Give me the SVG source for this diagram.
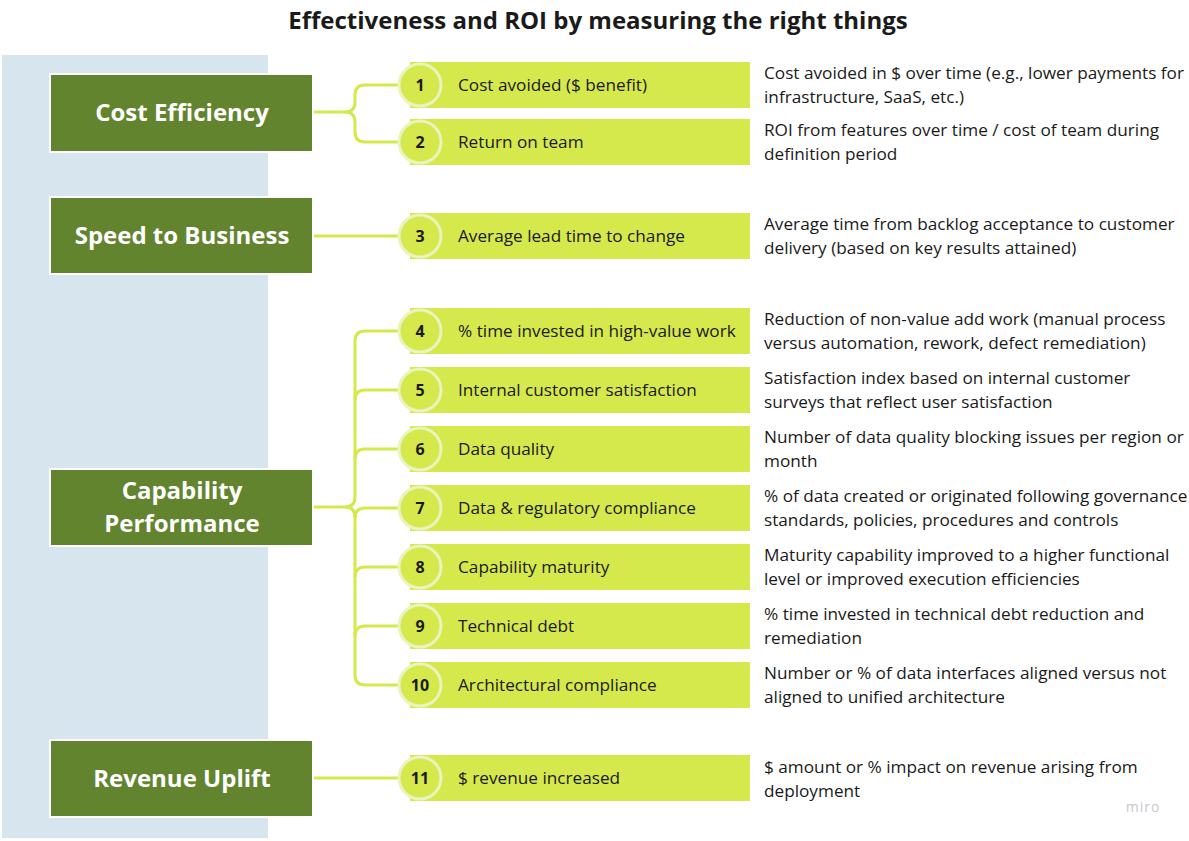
<svg xmlns="http://www.w3.org/2000/svg" width="1189" height="841" viewBox="0 0 1189 841">
<style>
.title{font-family:"Open Sans",sans-serif;font-weight:700;font-size:24px;fill:#1a1a1a}
.cat{fill:#63842e;stroke:#ffffff;stroke-width:2}
.catt{font-family:"Open Sans",sans-serif;font-weight:700;font-size:24px;fill:#ffffff;text-anchor:middle}
.bar{fill:#d5e94c}
.circ{fill:#d5e94c;stroke:#e9f4be;stroke-width:3}
.num{font-family:"Open Sans",sans-serif;font-weight:700;font-size:16px;fill:#1a1a1a;text-anchor:middle}
.lbl{font-family:"Open Sans",sans-serif;font-size:17.2px;fill:#1a1a1a}
.desc{font-family:"Open Sans",sans-serif;font-size:17.2px;fill:#1a1a1a}
.conn{fill:none;stroke:#d5e94c;stroke-width:3}
</style>
<rect width="1189" height="841" fill="#ffffff"/>
<rect x="2" y="55" width="266" height="783" fill="#d7e5ef"/>
<text class="title" x="598" y="29" text-anchor="middle">Effectiveness and ROI by measuring the right things</text>

<g id="connectors">
<path class="conn" d="M313,112 H345 Q355,112 355,102 V95 Q355,85 365,85 H400"/>
<path class="conn" d="M345,112 Q355,112 355,122 V132 Q355,142 365,142 H400"/>
<path class="conn" d="M313,236 H400"/>
<path class="conn" d="M313,507 H345 Q355,507 355,497 V341 Q355,331 365,331 H400"/>
<path class="conn" d="M345,507 Q355,507 355,517 V675 Q355,685 365,685 H400"/>
<path class="conn" d="M355,400 Q355,390 365,390 H400"/>
<path class="conn" d="M355,459 Q355,449 365,449 H400"/>
<path class="conn" d="M355,518 Q355,508 365,508 H400"/>
<path class="conn" d="M355,577 Q355,567 365,567 H400"/>
<path class="conn" d="M355,636 Q355,626 365,626 H400"/>
<path class="conn" d="M313,778 H400"/>
</g>

<g id="cat-cost"><rect class="cat" x="50" y="74" width="263" height="78"/><text class="catt" x="182" y="121">Cost Efficiency</text></g>
<g id="cat-speed"><rect class="cat" x="50" y="197" width="263" height="77"/><text class="catt" x="182" y="244">Speed to Business</text></g>
<g id="cat-capability"><rect class="cat" x="50" y="469" width="263" height="77"/><text class="catt" x="182" y="499">Capability</text><text class="catt" x="182" y="532">Performance</text></g>
<g id="cat-revenue"><rect class="cat" x="50" y="740" width="263" height="77"/><text class="catt" x="182" y="787">Revenue Uplift</text></g>

<g id="m1"><rect class="bar" x="410" y="62" width="340" height="46"/><circle class="circ" cx="420" cy="85" r="21"/><text class="num" x="420" y="91">1</text><text class="lbl" x="458" y="91">Cost avoided ($ benefit)</text>
<text class="desc" x="764" y="79">Cost avoided in $ over time (e.g., lower payments for</text><text class="desc" x="764" y="103">infrastructure, SaaS, etc.)</text></g>
<g id="m2"><rect class="bar" x="410" y="119" width="340" height="46"/><circle class="circ" cx="420" cy="142" r="21"/><text class="num" x="420" y="148">2</text><text class="lbl" x="458" y="148">Return on team</text>
<text class="desc" x="764" y="136">ROI from features over time / cost of team during</text><text class="desc" x="764" y="160">definition period</text></g>
<g id="m3"><rect class="bar" x="410" y="213" width="340" height="46"/><circle class="circ" cx="420" cy="236" r="21"/><text class="num" x="420" y="242">3</text><text class="lbl" x="458" y="242">Average lead time to change</text>
<text class="desc" x="764" y="230">Average time from backlog acceptance to customer</text><text class="desc" x="764" y="254">delivery (based on key results attained)</text></g>
<g id="m4"><rect class="bar" x="410" y="308" width="340" height="46"/><circle class="circ" cx="420" cy="331" r="21"/><text class="num" x="420" y="337">4</text><text class="lbl" x="458" y="337">% time invested in high-value work</text>
<text class="desc" x="764" y="325">Reduction of non-value add work (manual process</text><text class="desc" x="764" y="349">versus automation, rework, defect remediation)</text></g>
<g id="m5"><rect class="bar" x="410" y="367" width="340" height="46"/><circle class="circ" cx="420" cy="390" r="21"/><text class="num" x="420" y="396">5</text><text class="lbl" x="458" y="396">Internal customer satisfaction</text>
<text class="desc" x="764" y="384">Satisfaction index based on internal customer</text><text class="desc" x="764" y="408">surveys that reflect user satisfaction</text></g>
<g id="m6"><rect class="bar" x="410" y="426" width="340" height="46"/><circle class="circ" cx="420" cy="449" r="21"/><text class="num" x="420" y="455">6</text><text class="lbl" x="458" y="455">Data quality</text>
<text class="desc" x="764" y="443">Number of data quality blocking issues per region or</text><text class="desc" x="764" y="467">month</text></g>
<g id="m7"><rect class="bar" x="410" y="485" width="340" height="46"/><circle class="circ" cx="420" cy="508" r="21"/><text class="num" x="420" y="514">7</text><text class="lbl" x="458" y="514">Data &amp; regulatory compliance</text>
<text class="desc" x="764" y="502">% of data created or originated following governance</text><text class="desc" x="764" y="526">standards, policies, procedures and controls</text></g>
<g id="m8"><rect class="bar" x="410" y="544" width="340" height="46"/><circle class="circ" cx="420" cy="567" r="21"/><text class="num" x="420" y="573">8</text><text class="lbl" x="458" y="573">Capability maturity</text>
<text class="desc" x="764" y="561">Maturity capability improved to a higher functional</text><text class="desc" x="764" y="585">level or improved execution efficiencies</text></g>
<g id="m9"><rect class="bar" x="410" y="603" width="340" height="46"/><circle class="circ" cx="420" cy="626" r="21"/><text class="num" x="420" y="632">9</text><text class="lbl" x="458" y="632">Technical debt</text>
<text class="desc" x="764" y="620">% time invested in technical debt reduction and</text><text class="desc" x="764" y="644">remediation</text></g>
<g id="m10"><rect class="bar" x="410" y="662" width="340" height="46"/><circle class="circ" cx="420" cy="685" r="21"/><text class="num" x="420" y="691">10</text><text class="lbl" x="458" y="691">Architectural compliance</text>
<text class="desc" x="764" y="679">Number or % of data interfaces aligned versus not</text><text class="desc" x="764" y="703">aligned to unified architecture</text></g>
<g id="m11"><rect class="bar" x="410" y="755" width="340" height="46"/><circle class="circ" cx="420" cy="778" r="21"/><text class="num" x="420" y="784">11</text><text class="lbl" x="458" y="784">$ revenue increased</text>
<text class="desc" x="764" y="773">$ amount or % impact on revenue arising from</text><text class="desc" x="764" y="797">deployment</text></g>

<text x="1143" y="812" font-family="Open Sans, sans-serif" font-size="14" fill="#c8c8d2" text-anchor="middle" letter-spacing="1">miro</text>
</svg>
